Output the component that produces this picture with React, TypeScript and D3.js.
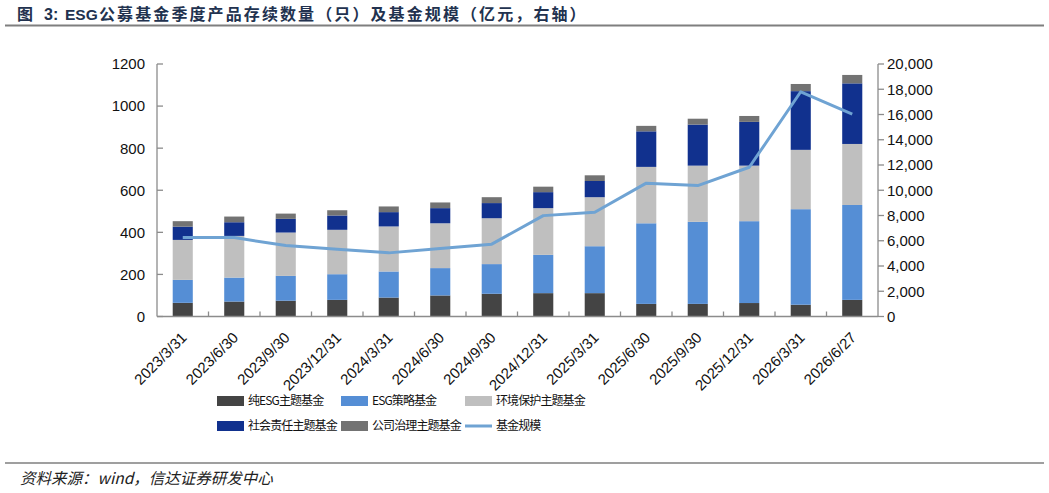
import React from 'react';
import * as d3 from 'd3';

// quarters on the x axis
const categories = ['2023/3/31', '2023/6/30', '2023/9/30', '2023/12/31', '2024/3/31', '2024/6/30', '2024/9/30', '2024/12/31', '2025/3/31', '2025/6/30', '2025/9/30', '2025/12/31', '2026/3/31', '2026/6/27'];

// fund counts (left axis)
const pureEsg = [65, 71, 75, 79, 90, 100, 108, 111, 111, 60, 60, 64, 56, 79];
const esgStrategy = [109, 114, 118, 122, 124, 130, 141, 182, 223, 383, 390, 389, 454, 451];
const envProtect = [190, 198, 206, 211, 214, 213, 218, 222, 233, 268, 267, 264, 282, 290];
const socialResp = [63, 65, 65, 68, 68, 72, 72, 76, 77, 169, 195, 208, 279, 288];
const governance = [26, 27, 25, 25, 27, 27, 28, 26, 27, 26, 28, 28, 34, 40];

// fund size, 亿元 (right axis)
const fundSize = [6250, 6250, 5620, 5330, 5040, 5380, 5730, 7990, 8260, 10560, 10370, 11820, 17800, 16020];

const leftTicks = [0, 200, 400, 600, 800, 1000, 1200];
const rightTicks = [0, 2000, 4000, 6000, 8000, 10000, 12000, 14000, 16000, 18000, 20000];

const seriesNames = ['纯ESG主题基金', 'ESG策略基金', '环境保护主题基金', '社会责任主题基金', '公司治理主题基金'];
const seriesColors = ['#444444', '#558ed5', '#bfbfbf', '#11318e', '#737373'];
const lineColor = '#6fa3d3';

const W = 1049, H = 493;
const plotLeft = 157, plotRight = 878, plotTop = 64, plotBottom = 316.5;
const axisColor = '#8c8c8c';
const numFont = '"Liberation Sans", Arial, sans-serif';
const cjkFont = '"Noto Sans CJK SC", sans-serif';
const titleColor = '#22324f';

export default function App() {
  const x = d3.scaleBand().domain(categories).range([plotLeft, plotRight]).padding(0);
  const yL = d3.scaleLinear().domain([0, 1200]).range([plotBottom, plotTop]);
  const yR = d3.scaleLinear().domain([0, 20000]).range([plotBottom, plotTop]);
  const barW = x.bandwidth() * 0.39;

  const rows = categories.map((c, i) => ({
    cat: c,
    v0: pureEsg[i], v1: esgStrategy[i], v2: envProtect[i], v3: socialResp[i], v4: governance[i]
  }));
  const stacked = d3.stack<any>().keys(['v0', 'v1', 'v2', 'v3', 'v4'])(rows);

  const line = d3.line<number>()
    .x((d, i) => (x(categories[i]) as number) + x.bandwidth() / 2)
    .y(d => yR(d));

  const legendItems = [
    { name: seriesNames[0], color: seriesColors[0], x: 217, y: 401 },
    { name: seriesNames[1], color: seriesColors[1], x: 341, y: 401 },
    { name: seriesNames[2], color: seriesColors[2], x: 465, y: 401 },
    { name: seriesNames[3], color: seriesColors[3], x: 217, y: 426 },
    { name: seriesNames[4], color: seriesColors[4], x: 341, y: 426 },
  ];

  return (
    <svg width={W} height={H} style={{ position: 'absolute', left: 0, top: 0, background: '#fff' }}>
      {/* title */}
      <g fontWeight="bold" fontSize={16} fill={titleColor}>
        <text x={17} y={20} fontFamily={cjkFont}>图</text>
        <text x={44} y={20} fontFamily={numFont}>3:</text>
        <text x={65} y={20} fontFamily={numFont} fontSize={15.5}>ESG</text>
        <text x={99} y={20} fontFamily={cjkFont} letterSpacing={2.1}>公募基金季度产品存续数量（只）及基金规模（亿元，右轴）</text>
      </g>
      <line x1={5} x2={1044} y1={25.5} y2={25.5} stroke="#7f7f7f" strokeWidth={2} />

      {/* bars */}
      {stacked.map((layer, k) => (
        <g key={k} fill={seriesColors[k]}>
          {layer.map((d, i) => (
            <rect key={i}
              x={(x(categories[i]) as number) + (x.bandwidth() - barW) / 2}
              y={yL(d[1])}
              width={barW}
              height={yL(d[0]) - yL(d[1])} />
          ))}
        </g>
      ))}

      {/* line */}
      <path d={line(fundSize) || ''} fill="none" stroke={lineColor} strokeWidth={3} strokeLinejoin="round" />

      {/* left axis */}
      <line x1={plotLeft} x2={plotLeft} y1={plotTop} y2={plotBottom} stroke={axisColor} strokeWidth={1.3} />
      {leftTicks.map(t => (
        <g key={t}>
          <line x1={plotLeft} x2={plotLeft + 6} y1={yL(t)} y2={yL(t)} stroke={axisColor} strokeWidth={1.3} />
          <text x={145} y={yL(t)} dy="0.36em" textAnchor="end" fontFamily={numFont} fontSize={15} fill="#111">{t}</text>
        </g>
      ))}

      {/* right axis */}
      <line x1={plotRight} x2={plotRight} y1={plotTop} y2={plotBottom} stroke={axisColor} strokeWidth={1.3} />
      {rightTicks.map(t => (
        <g key={t}>
          <line x1={plotRight} x2={plotRight + 6} y1={yR(t)} y2={yR(t)} stroke={axisColor} strokeWidth={1.3} />
          <text x={887} y={yR(t)} dy="0.36em" fontFamily={numFont} fontSize={15} fill="#111">{d3.format(',')(t)}</text>
        </g>
      ))}

      {/* x axis */}
      <line x1={plotLeft} x2={plotRight} y1={plotBottom} y2={plotBottom} stroke={axisColor} strokeWidth={1.3} />
      {categories.map((c, i) => i > 0 ? (
        <line key={c} x1={x(c) as number} x2={x(c) as number} y1={plotBottom} y2={plotBottom - 5} stroke={axisColor} strokeWidth={1.3} />
      ) : null)}
      {categories.map(c => {
        const cx = (x(c) as number) + x.bandwidth() / 2;
        return (
          <text key={c} transform={`translate(${cx + 5}, ${plotBottom + 22}) rotate(-45)`} textAnchor="end"
            fontFamily={numFont} fontSize={15} fill="#111">{c}</text>
        );
      })}

      {/* legend */}
      {legendItems.map(it => (
        <g key={it.name}>
          <rect x={it.x} y={it.y - 5} width={27} height={10} fill={it.color} />
          <text x={it.x + 31} y={it.y} dy="0.36em" fontFamily={cjkFont} fontSize={12} letterSpacing={-0.9} fill="#111">{it.name}</text>
        </g>
      ))}
      <line x1={465} x2={492} y1={426} y2={426} stroke={lineColor} strokeWidth={3} />
      <text x={496} y={426} dy="0.36em" fontFamily={cjkFont} fontSize={12} letterSpacing={-0.9} fill="#111">基金规模</text>

      {/* footer */}
      <line x1={5} x2={1044} y1={463} y2={463} stroke="#7f7f7f" strokeWidth={1.5} />
      <text x={20} y={484} fontFamily={cjkFont} fontStyle="italic" fontSize={15.5} fill="#222">资料来源：wind，信达证券研发中心</text>
    </svg>
  );
}
